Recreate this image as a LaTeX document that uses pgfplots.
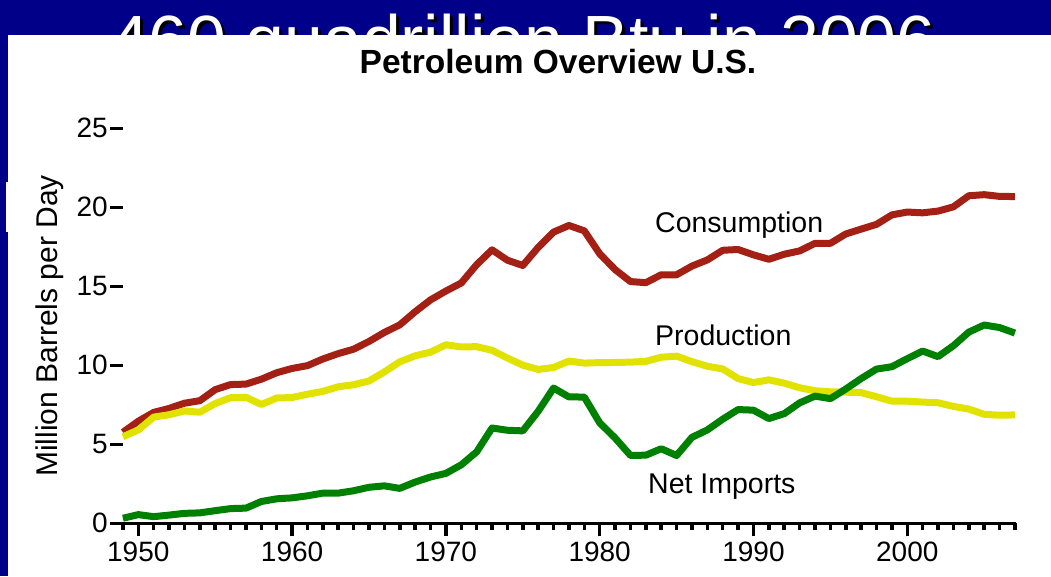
\documentclass[border=0pt]{standalone}
\usepackage{pgfplots}
\pgfplotsset{compat=1.18}
\usepackage{fontspec}
\setmainfont{Liberation Sans}
\definecolor{bgblue}{RGB}{0,0,136}
\definecolor{consred}{RGB}{165,32,20}
\definecolor{prodyellow}{RGB}{226,226,0}
\definecolor{impgreen}{RGB}{0,128,0}
\newcommand{\tl}[1]{\mbox{\fontsize{28pt}{30pt}\selectfont #1}}
\begin{document}
\begin{tikzpicture}
% background
\fill[bgblue] (0pt,0pt) rectangle (1051pt,576pt);
\node[anchor=base west, text=black, inner sep=0pt, font=\fontsize{69.7pt}{72pt}\selectfont] at (113pt,508pt) {460 quadrillion Btu in 2006};
\node[anchor=base west, text=white, inner sep=0pt, font=\fontsize{69.7pt}{72pt}\selectfont] at (110pt,511pt) {460 quadrillion Btu in 2006};
\fill[white] (8pt,0pt) rectangle (1051pt,541pt);
\fill[white] (6pt,344pt) rectangle (8pt,394pt);
% chart title
\node[anchor=base, inner sep=0pt, font=\fontsize{33.5pt}{35pt}\selectfont\bfseries] at (558pt,502pt) {Petroleum Overview U.S.};
% y label
\node[anchor=base, rotate=90, inner sep=0pt, font=\fontsize{30pt}{32pt}\selectfont] at (57pt,250pt) {Million Barrels per Day};
\begin{axis}[
  at={(110pt,52.7pt)}, anchor=south west,
  scale only axis, width=906pt, height=395pt,
  xmin=1948.16, xmax=2007.07, ymin=0, ymax=25,
  axis x line=bottom, axis y line=left,
  x axis line style={-, line width=3.5pt},
  y axis line style={draw=none},
  xtick={1950,1960,1970,1980,1990,2000},
  xticklabels={\tl{1950},\tl{1960},\tl{1970},\tl{1980},\tl{1990},\tl{2000}},
  minor xtick={1949,1951,1952,1953,1954,1955,1956,1957,1958,1959,1961,1962,1963,1964,1965,1966,1967,1968,1969,1971,1972,1973,1974,1975,1976,1977,1978,1979,1981,1982,1983,1984,1985,1986,1987,1988,1989,1991,1992,1993,1994,1995,1996,1997,1998,1999,2001,2002,2003,2004,2005,2006,2007},
  ytick={0,5,10,15,20,25},
  yticklabels={\tl{0},\tl{5},\tl{10},\tl{15},\tl{20},\tl{25}},
  xtick align=outside, ytick align=inside,
  major tick length=13pt, minor tick length=7pt,
  every tick/.style={black, line width=3.5pt},
  x tick label style={inner ysep=5pt},
  y tick label style={inner xsep=2pt},
  clip=false,
]
\addplot[consred, line width=7pt, line join=round] coordinates {
(1949,5.76) (1950,6.46) (1951,7.02) (1952,7.27) (1953,7.60) (1954,7.76) (1955,8.46) (1956,8.78) (1957,8.81) (1958,9.12) (1959,9.53)
(1960,9.80) (1961,9.98) (1962,10.40) (1963,10.74) (1964,11.02) (1965,11.51) (1966,12.08) (1967,12.56) (1968,13.39) (1969,14.14)
(1970,14.70) (1971,15.21) (1972,16.37) (1973,17.31) (1974,16.65) (1975,16.32) (1976,17.46) (1977,18.43) (1978,18.85) (1979,18.51)
(1980,17.06) (1981,16.06) (1982,15.30) (1983,15.23) (1984,15.73) (1985,15.73) (1986,16.28) (1987,16.67) (1988,17.28) (1989,17.33)
(1990,16.99) (1991,16.71) (1992,17.03) (1993,17.24) (1994,17.72) (1995,17.72) (1996,18.31) (1997,18.62) (1998,18.92) (1999,19.52)
(2000,19.70) (2001,19.65) (2002,19.76) (2003,20.03) (2004,20.73) (2005,20.80) (2006,20.69) (2007,20.68)
};
\addplot[prodyellow, line width=7pt, line join=round] coordinates {
(1949,5.48) (1950,5.91) (1951,6.72) (1952,6.87) (1953,7.11) (1954,7.03) (1955,7.58) (1956,7.95) (1957,7.98) (1958,7.52) (1959,7.93)
(1960,7.96) (1961,8.17) (1962,8.35) (1963,8.64) (1964,8.77) (1965,9.01) (1966,9.58) (1967,10.22) (1968,10.60) (1969,10.83)
(1970,11.30) (1971,11.16) (1972,11.18) (1973,10.95) (1974,10.46) (1975,10.01) (1976,9.74) (1977,9.86) (1978,10.27) (1979,10.14)
(1980,10.17) (1981,10.18) (1982,10.20) (1983,10.25) (1984,10.51) (1985,10.58) (1986,10.23) (1987,9.94) (1988,9.77) (1989,9.16)
(1990,8.91) (1991,9.08) (1992,8.87) (1993,8.58) (1994,8.39) (1995,8.32) (1996,8.30) (1997,8.27) (1998,8.01) (1999,7.73)
(2000,7.73) (2001,7.67) (2002,7.63) (2003,7.40) (2004,7.23) (2005,6.90) (2006,6.84) (2007,6.86)
};
\addplot[impgreen, line width=7pt, line join=round] coordinates {
(1949,0.32) (1950,0.55) (1951,0.42) (1952,0.52) (1953,0.63) (1954,0.66) (1955,0.80) (1956,0.93) (1957,0.96) (1958,1.38) (1959,1.55)
(1960,1.61) (1961,1.74) (1962,1.91) (1963,1.91) (1964,2.06) (1965,2.28) (1966,2.37) (1967,2.21) (1968,2.61) (1969,2.93)
(1970,3.16) (1971,3.70) (1972,4.52) (1973,6.03) (1974,5.89) (1975,5.85) (1976,7.09) (1977,8.56) (1978,8.00) (1979,7.99)
(1980,6.36) (1981,5.40) (1982,4.30) (1983,4.31) (1984,4.72) (1985,4.29) (1986,5.44) (1987,5.91) (1988,6.59) (1989,7.20)
(1990,7.16) (1991,6.63) (1992,6.94) (1993,7.62) (1994,8.05) (1995,7.89) (1996,8.50) (1997,9.16) (1998,9.76) (1999,9.91)
(2000,10.42) (2001,10.90) (2002,10.55) (2003,11.24) (2004,12.10) (2005,12.55) (2006,12.39) (2007,12.04)
};
\end{axis}
\node[anchor=base west, inner sep=0pt, font=\fontsize{28.5pt}{30pt}\selectfont] at (655pt,343pt) {Consumption};
\node[anchor=base west, inner sep=0pt, font=\fontsize{28.5pt}{30pt}\selectfont] at (655pt,231pt) {Production};
\node[anchor=base west, inner sep=0pt, font=\fontsize{28.5pt}{30pt}\selectfont] at (648pt,83pt) {Net Imports};
\end{tikzpicture}
\end{document}
